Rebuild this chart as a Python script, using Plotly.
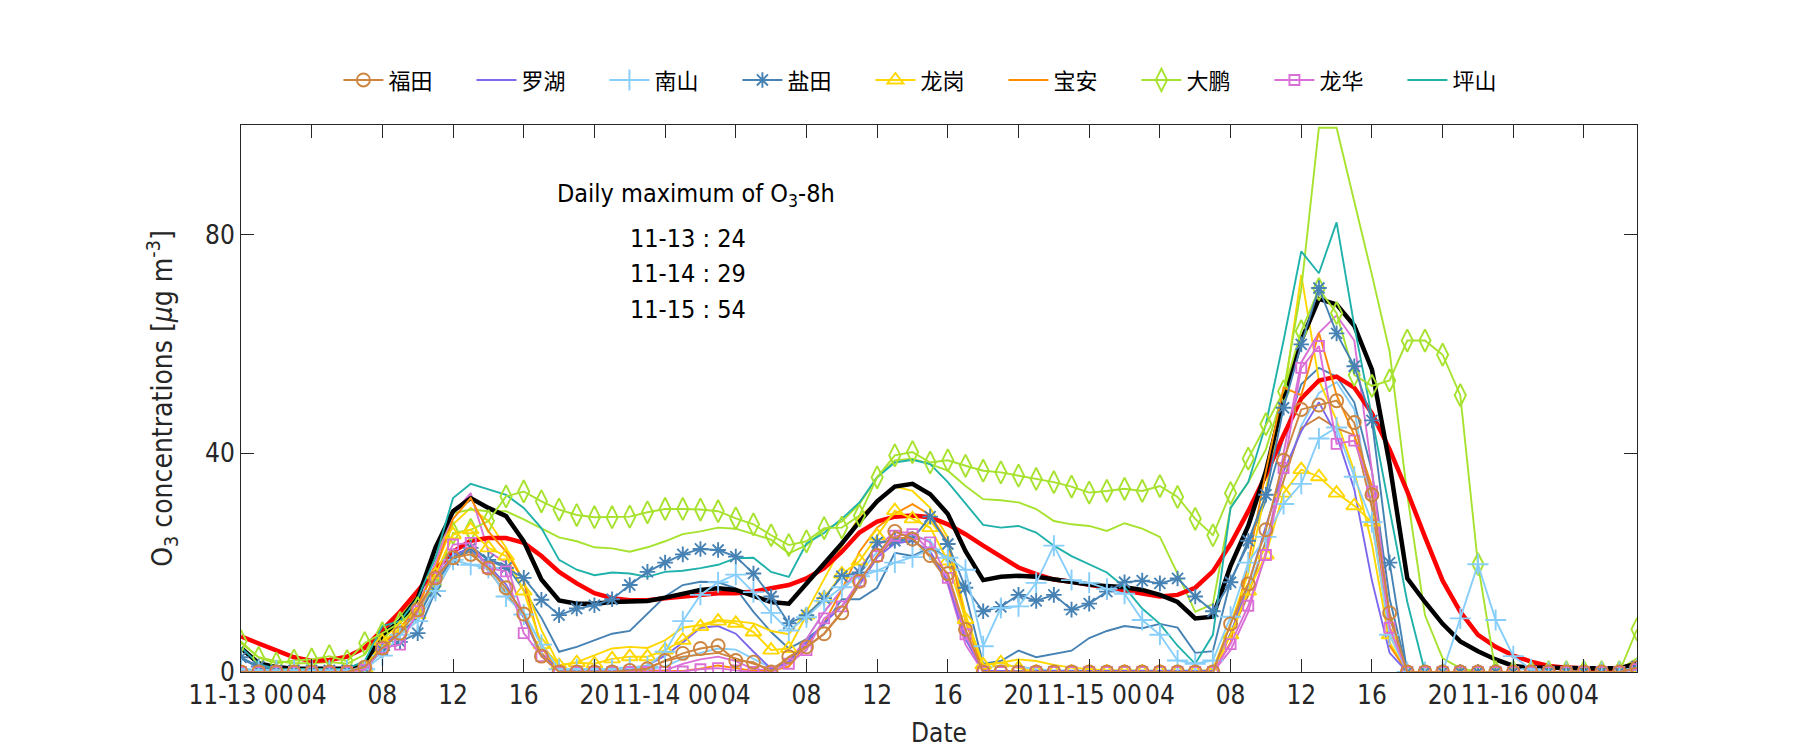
import plotly.graph_objects as go

hours = list(range(80))
tick_vals = list(range(0, 80, 4))
tick_text = ["11-13 00", "04", "08", "12", "16", "20",
             "11-14 00", "04", "08", "12", "16", "20",
             "11-15 00", "04", "08", "12", "16", "20",
             "11-16 00", "04"]

# --- thick summary lines (no legend) ---
red_line = [6.5, 5.2, 3.9, 2.7, 2.0, 2.2, 2.8, 4.4, 7.7, 11, 14.8, 18.7, 22, 24, 24.5, 24.5, 23.6, 21.2, 18.3, 16.2,
            14.4, 13.5, 13.1, 13.1, 13.5, 13.8, 14.2, 14.4, 14.4, 14.7, 15.3, 15.9, 17.1, 19, 22, 25.5, 27.5, 28.4, 28.6, 28.3,
            27, 25.2, 23.1, 21.2, 19.1, 17.9, 16.9, 16.5, 16, 15.5, 15, 14.4, 13.8, 14.1, 15.4, 18.4, 23.4, 29.4, 36, 43.3,
            50, 53.3, 54, 52, 47.3, 40.7, 33, 24.7, 16.7, 11, 6.8, 4.6, 3, 1.9, 1.1, 0.8, 0.6, 0.5, 0.5, 0.5]
black_line = [4.4, 1.6, 0.9, 0.6, 0.6, 0.6, 0.6, 1.3, 6.8, 9.3, 13.5, 22.7, 29.4, 31.8, 30, 28.5, 23.9, 16.9, 13.1, 12.5,
              12.5, 12.8, 12.8, 13, 13.6, 14.4, 15, 15.3, 15, 13.9, 12.8, 12.5, 16.2, 19.6, 23.5, 27.5, 31.2, 33.9, 34.4, 32.5,
              28.9, 22.1, 16.8, 17.4, 17.6, 17.4, 16.9, 16.3, 16, 15.7, 15.5, 15, 14.1, 12.8, 9.8, 10.1, 19.4, 26.7, 36.7, 50,
              60.6, 68.2, 67.2, 63.3, 55.3, 38, 17.1, 12.8, 8.8, 5.6, 3.8, 2.3, 1.1, 0.8, 0.7, 0.7, 0.7, 0.7, 0.7, 1.5]

# --- stations (legend entries) ---
futian = [0, 0, 0, 0, 0, 0, 0, 0.9, 4.4, 7.1, 11.4, 17.2, 20.9, 21.5, 19, 15.4, 10.6, 2.9, 0, 0,
          0, 0, 0.3, 0.6, 2.1, 3.4, 4.3, 4.8, 2.1, 1.8, 0, 2.8, 4.6, 7, 10.8, 16.6, 21.3, 25.7, 24.3, 21.3,
          18, 7.8, 0, 0, 0, 0, 0, 0, 0, 0, 0, 0, 0, 0, 0, 0, 8.8, 16.1, 26, 38.7,
          48, 48.8, 49.6, 45.6, 32.4, 10.8, 0, 0, 0, 0, 0, 0, 0, 0, 0, 0, 0, 0, 0, 0.8]
luohu = [0.2, 0.2, 0.2, 0.2, 0.2, 0.2, 0.2, 1, 4.5, 7.5, 11.5, 17, 21.5, 22.5, 19.5, 16, 10, 3, 0.4, 0.4,
         0.4, 0.4, 0.4, 1.2, 3, 5.4, 8.1, 8.4, 7, 3.7, 0.6, 1.8, 5.5, 9, 12, 16, 21, 23.5, 24, 22,
         16.5, 6, 0.2, 0.2, 0.2, 0.2, 0.2, 0.2, 0.2, 0.2, 0.2, 0.2, 0.2, 0.2, 0.2, 0.2, 7, 16, 26.7, 36.7,
         44, 49.3, 43.3, 33.4, 16.7, 3.5, 0, 0, 0, 0, 0, 0, 0, 0, 0, 0, 0, 0, 0, 0.5]
nanshan = [0.5, 0.3, 0.3, 0.3, 0.3, 0.3, 0.3, 0.5, 3, 6.8, 9.3, 14.8, 20.5, 19.6, 19, 13.8, 10.5, 5, 0.5, 0.5,
           0.5, 0.5, 0.8, 1, 3.7, 9.3, 14.1, 16.4, 17.8, 14.6, 10.8, 7.6, 10, 13, 15.5, 17.5, 18.5, 20, 21, 22.4,
           20.9, 18.7, 4.7, 11.7, 12, 16.3, 23.1, 16.8, 16.3, 15.2, 14.3, 9.5, 6.8, 2.1, 1.5, 2.1, 10.1, 20, 24.7, 30.7,
           34.4, 42.7, 44.7, 35.7, 27.4, 6.8, 0, 0, 0, 9.8, 19.7, 9.5, 2.9, 0.5, 0, 0, 0, 0, 0, 0.5]
yantian = [2.7, 1, 0.3, 0.3, 0.3, 0.3, 0.3, 0.7, 4, 5.5, 7.1, 14.8, 20.5, 22.7, 20.5, 19, 17.2, 13.2, 10.4, 11.6,
           12.2, 13.3, 15.9, 18.3, 20, 21.5, 22.5, 22.3, 21.1, 18, 13.8, 8.9, 10.4, 13.5, 17.5, 18.2, 23.7, 24, 24.3, 28.4,
           23.4, 15.4, 11.1, 11.9, 14.1, 13, 14.1, 11.4, 12.5, 14.7, 16.4, 16.7, 16.2, 17.1, 13.8, 11.1, 16.4, 24, 32.4, 48.3,
           59.9, 70.2, 61.9, 55.9, 46, 20, 0, 0, 0, 0, 0, 0, 0, 0, 0, 0, 0, 0, 0, 1]
longgang = [0, 0, 0, 0, 0, 0, 0, 0.7, 5.6, 8, 10.5, 17.8, 25.1, 26, 22.7, 21.2, 14.8, 5, 1.2, 1.7,
            1.5, 2.4, 2.8, 2.8, 4, 5.8, 8.3, 9.3, 8.9, 7.3, 4, 4.3, 10.4, 13.5, 17.9, 20.3, 24.9, 29.5, 28, 26.4,
            20.3, 9.6, 1.3, 1.7, 0.7, 0, 0, 0, 0, 0, 0, 0, 0, 0, 0, 0, 6.8, 14.8, 21.4, 32.7,
            37, 35.7, 32.7, 30.4, 27.4, 6.8, 0, 0, 0, 0, 0, 0, 0, 0, 0, 0, 0, 0, 0, 0]
baoan = [0, 0.2, 0.2, 0.2, 0.2, 0.2, 0.2, 1, 5, 8, 12, 19, 28, 31.8, 25.7, 22, 16.6, 4.4, 0.3, 0.2,
         0.2, 0.2, 0.2, 0.2, 0.2, 0.2, 0.6, 1.2, 0.7, 0.2, 0.2, 1, 5, 9, 15, 22, 26.4, 28.9, 30.7, 28.7,
         23.7, 9.3, 0.4, 0, 0, 0, 0, 0, 0, 0, 0, 0, 0, 0, 0, 0, 5.4, 20, 36.7, 52,
         50.6, 62, 50.6, 43.3, 34, 4.8, 0, 0, 0, 0, 0, 0, 0, 0, 0, 0, 0, 0, 0, 0]
dapeng = [5.6, 2.6, 1.6, 2.1, 2.3, 2.9, 2, 5.3, 7.1, 9, 11.7, 16, 25.4, 26, 27.6, 32.1, 33, 31.2, 29.7, 28.7,
          28.3, 28.3, 28.4, 29.2, 29.8, 29.8, 29.7, 29.4, 28.1, 27, 25, 23.2, 23.9, 26.3, 26.4, 28.6, 35.6, 39.6, 40.2, 38.3,
          38.7, 37.7, 36.8, 36.5, 35.9, 35.3, 34.7, 33.9, 32.8, 33.1, 33.5, 33.1, 34, 32, 28, 25, 32.7, 39, 45.3, 51.3,
          62.3, 70, 65.6, 54.3, 52.3, 53.3, 60.6, 60.6, 58, 50.6, 19.7, 0, 0, 0, 0, 0, 0, 0, 0, 7.8]
longhua = [0, 0, 0, 0, 0, 0, 0, 0.4, 4.4, 5, 11.1, 17.2, 23.3, 23.6, 19, 18.4, 7.1, 2.9, 0, 0,
           0, 0, 0, 0, 0, 0.1, 0.5, 0.7, 0.3, 0, 0, 1.5, 4, 9.8, 12, 16.6, 21.2, 24.9, 25.2, 23.7,
           17.2, 6.9, 0, 0, 0, 0, 0, 0, 0, 0, 0, 0, 0, 0, 0, 0, 5.1, 12.1, 21.4, 37.3,
           55.6, 59.6, 41.7, 42.3, 33, 8.1, 0, 0, 0, 0, 0, 0, 0, 0, 0, 0, 0, 0, 0, 0.5]
pingshan = [4.5, 1.5, 0.5, 0.5, 0.5, 0.5, 0.6, 2, 8.4, 9.3, 13.5, 20.9, 31.8, 34.4, 33.4, 32.4, 30, 26.3, 20.5, 18.7,
            17.7, 18.2, 18, 17.4, 18.3, 18.5, 19, 19.6, 20.8, 20.9, 18.3, 17.4, 23.5, 25.4, 28, 31, 35.6, 38.3, 38.8, 38,
            34.7, 30.7, 26.9, 26.4, 26.7, 25.5, 23.1, 21.2, 19.7, 18.2, 15.5, 11.6, 8.8, 4.8, 1.5, 6.8, 30, 34.7, 45.3, 60.6,
            76.9, 72.9, 82.2, 63.3, 46.6, 30, 12.8, 0, 0, 0, 0, 0, 0, 0, 0, 0, 0, 0, 0, 1]

# --- second (unlabelled) lines of some stations ---
futian_2 = [0.2, 0.2, 0.2, 0.2, 0.2, 0.2, 0.2, 1, 4.5, 7.5, 11.5, 17, 21, 22, 18.5, 14.5, 10, 3.5, 0.3, 0.3,
            0.3, 0.3, 0.3, 0.8, 2, 2.8, 3.2, 3.5, 2.5, 1.5, 0.5, 2.5, 4.5, 7, 11, 16, 21, 24.5, 24.5, 21,
            16.5, 7, 0, 0, 0, 0, 0, 0, 0, 0, 0, 0, 0, 0, 0, 0, 7, 14, 24, 35,
            44.6, 46.6, 44.6, 43.3, 30, 10, 0, 0, 0, 0, 0, 0, 0, 0, 0, 0, 0, 0, 0, 0.5]
nanshan_2 = [0.5, 0.3, 0.3, 0.3, 0.3, 0.3, 0.3, 0.6, 4, 7.5, 11, 16, 21, 22, 20, 15, 11, 5, 0.3, 0.3,
             0.3, 0.3, 0.3, 0.5, 1, 2.5, 3.5, 4.3, 4.1, 2.4, 0.8, 1.5, 6, 11, 15, 18, 22, 24, 25, 24,
             20, 10, 0.8, 1.2, 1, 0.5, 0.3, 0.3, 0.3, 0.3, 0.3, 0.3, 0.3, 0.3, 0.3, 0.3, 7, 15, 24, 35,
             45, 51, 53, 48, 30, 8, 0, 0, 0, 0, 0, 0, 0, 0, 0, 0, 0, 0, 0, 0]
yantian_2 = [2.5, 0.8, 0.3, 0.3, 0.3, 0.3, 0.3, 0.8, 4.5, 7, 10, 16, 21, 23, 20.5, 19.5, 15, 9.9, 3.7, 4.6,
             5.8, 7, 7.5, 10.7, 13.8, 15.9, 16.5, 16.4, 15.3, 11, 7.3, 4.3, 6, 8.6, 13.3, 13.3, 15.4, 21.8, 21.2, 22.8,
             20.9, 14.2, 1.5, 2, 3.9, 2.7, 3.3, 3.9, 6.2, 7.5, 8.4, 8, 8.8, 8.1, 3.5, 3.8, 16.7, 23.4, 31.4, 43,
             52.6, 55.6, 54, 49.3, 36.7, 13.4, 0, 0, 0, 0, 0, 0, 0, 0, 0, 0, 0, 0, 0, 0.5]
longgang_2 = [0, 0.2, 0.2, 0.2, 0.2, 0.2, 0.2, 1.5, 6, 9, 12, 19, 27, 30, 27.6, 22.7, 16.6, 7.7, 1.2, 1.8,
              3, 4.3, 4.6, 4.4, 5.8, 8.1, 8.6, 9.5, 9.3, 8.9, 7.5, 6.9, 11, 17, 23, 28.5, 31, 33.9, 33.1, 30,
              24.6, 10.5, 1.3, 1.7, 2.3, 2, 1.3, 0.8, 0.5, 0.3, 0.3, 0.3, 0.2, 0, 0, 0.5, 8.8, 18, 33.4, 50,
              72.6, 53.3, 46, 36.7, 23.4, 5.4, 0, 0, 0, 0, 0, 0, 0, 0, 0, 0, 0, 0, 0, 0]
dapeng_2 = [5.3, 2.7, 2, 1.6, 1.6, 1.8, 1.5, 3.2, 7.7, 10.2, 14, 21, 29, 29.7, 29.4, 29.4, 27.9, 26.3, 24.6, 23.9,
            22.8, 22.6, 22, 22.8, 23.9, 25.2, 25.7, 26.4, 26.2, 25.2, 24.2, 21.7, 23.2, 26, 27.5, 30.7, 35.6, 38.7, 39, 38,
            36.8, 34, 31.6, 31.4, 31, 29.8, 27.6, 27, 26.7, 25.8, 27.2, 26.2, 24.7, 18, 11, 12.4, 30, 34.7, 40.7, 51.3,
            70, 99.5, 99.5, 86, 72.6, 58.6, 32.4, 10.4, 2.5, 0.7, 0, 0, 0, 0, 0, 0, 0, 0, 0.5, 2.5]
longhua_2 = [0, 0.2, 0.2, 0.2, 0.2, 0.2, 0.2, 1, 5, 8, 12, 20, 29, 32.7, 22, 20, 10, 3, 0.3, 0.3,
             0.3, 0.3, 0.3, 0.3, 0.3, 1.5, 2.3, 2.8, 2, 0.5, 0.3, 2, 6, 11, 15, 19, 23, 25.5, 25.5, 22,
             16, 5, 0, 0, 0, 0, 0, 0, 0, 0, 0, 0, 0, 0, 0, 0, 4, 11, 22, 40,
             56.6, 62, 65.2, 60.6, 36.7, 10, 0, 0, 0, 0, 0, 0, 0, 0, 0, 0, 0, 0, 0, 0]

FONT = "DejaVu Sans Condensed, Liberation Sans Narrow, Liberation Sans, sans-serif"
CJK = "Noto Sans CJK SC, sans-serif"

C_FT = "#CD853F"
C_LH = "#7B68EE"
C_NS = "#87CEFA"
C_YT = "#4682B4"
C_LG = "#FFD700"
C_BA = "#FF8C00"
C_DP = "#A6E22E"
C_LHUA = "#DA70D6"
C_PS = "#20B2AA"

LW = 1.9

fig = go.Figure()

def add_plain(y, color, width=LW):
    fig.add_trace(go.Scatter(x=hours, y=y, mode="lines", showlegend=False,
                             line=dict(color=color, width=width), hoverinfo="skip"))

for y, c in [(nanshan_2, C_NS), (yantian_2, C_YT), (longgang_2, C_LG), (dapeng_2, C_DP),
             (longhua_2, C_LHUA), (futian_2, C_FT)]:
    add_plain(y, c)

add_plain(red_line, "#FF0000", 4.5)
add_plain(black_line, "#000000", 4.5)

stations = [
    ("坪山", pingshan, C_PS, None, 9),
    ("大鹏", dapeng, C_DP, ("diamond-tall-open", 16), 7),
    ("宝安", baoan, C_BA, None, 6),
    ("罗湖", luohu, C_LH, None, 2),
    ("龙岗", longgang, C_LG, ("triangle-up-open", 14), 5),
    ("盐田", yantian, C_YT, ("asterisk-open", 13), 4),
    ("南山", nanshan, C_NS, ("cross-thin-open", 15), 3),
    ("龙华", longhua, C_LHUA, ("square-open", 10), 8),
    ("福田", futian, C_FT, ("circle-open", 13), 1),
]
for name, y, c, mk, rank in stations:
    kw = dict(x=hours, y=y, name=name, legendrank=rank,
              line=dict(color=c, width=LW))
    if mk:
        kw["mode"] = "lines+markers"
        kw["marker"] = dict(symbol=mk[0], size=mk[1], color=c, line=dict(color=c, width=1.9))
    else:
        kw["mode"] = "lines"
    fig.add_trace(go.Scatter(**kw))

axis_common = dict(showline=True, linecolor="#262626", linewidth=1, mirror="ticks",
                   ticks="inside", ticklen=13, tickcolor="#262626", tickwidth=1,
                   showgrid=False, zeroline=False,
                   tickfont=dict(family=FONT, size=26, color="#262626"))

fig.update_layout(
    width=1800, height=750,
    paper_bgcolor="white", plot_bgcolor="white",
    margin=dict(l=233, r=171, t=117, b=86, autoexpand=False),
    font=dict(family=FONT, color="#262626"),
    xaxis=dict(range=[0, 79], tickvals=tick_vals, ticktext=tick_text,
               title=dict(text="Date", font=dict(family=FONT, size=26, color="#262626"), standoff=14),
               **axis_common),
    yaxis=dict(range=[0, 100], tickvals=[0, 40, 80],
               title=dict(text="O<sub>3</sub> concentrations [<i>μ</i>g m<sup>-3</sup>]",
                          font=dict(family=FONT, size=28, color="#262626"), standoff=24),
               **axis_common),
    legend=dict(orientation="h", x=0.4985, xanchor="center", y=1.082, yanchor="middle",
                font=dict(family=CJK, size=22, color="#000000"),
                itemwidth=40, entrywidth=78, bgcolor="rgba(0,0,0,0)"),
    showlegend=True,
)

ann_font = dict(family=FONT, size=25, color="#000000")
fig.add_annotation(x=0.326, y=0.872, xref="paper", yref="paper", showarrow=False,
                   xanchor="center", yanchor="middle",
                   text="Daily maximum of O<sub>3</sub>-8h", font=ann_font)
for yy, t in [(0.793, "11-13 : 24"), (0.729, "11-14 : 29"), (0.662, "11-15 : 54")]:
    fig.add_annotation(x=0.320, y=yy, xref="paper", yref="paper", showarrow=False,
                       xanchor="center", yanchor="middle", text=t, font=ann_font)

fig.write_html("out.html")
